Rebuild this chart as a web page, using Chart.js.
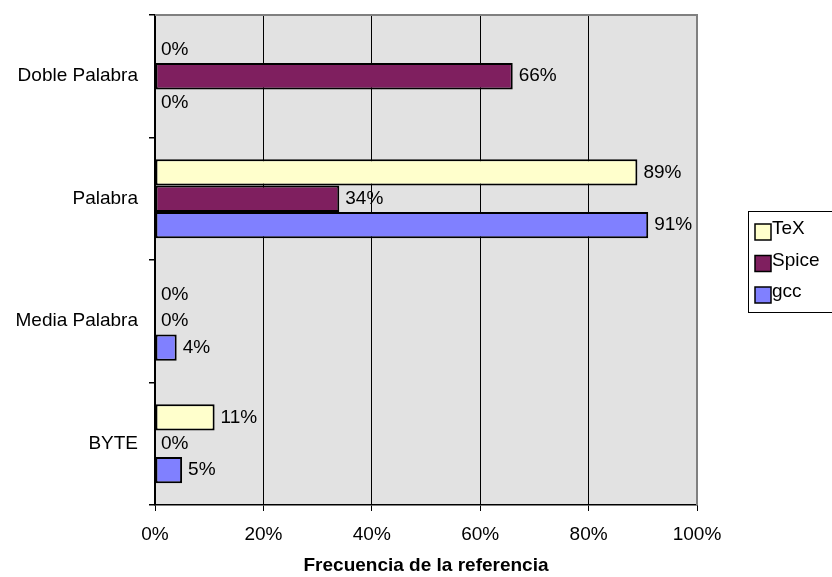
<!DOCTYPE html>
<html>
<head>
<meta charset="utf-8">
<title>Frecuencia de la referencia</title>
<script src="https://cdn.jsdelivr.net/npm/chart.js@4/dist/chart.umd.min.js"></script>
<style>
    html, body { margin: 0; padding: 0; background: #fff; }
    #chart { display: block; }
</style>
</head>
<body>
<canvas id="chart" width="832" height="577"></canvas>
<script>
// categories (top to bottom) and series values in percent
const categories = ['Doble Palabra', 'Palabra', 'Media Palabra', 'BYTE'];
const texValues = [0, 89, 0, 11];
const spiceValues = [66, 34, 0, 0];
const gccValues = [0, 91, 4, 5];
const seriesNames = ['TeX', 'Spice', 'gcc'];
const seriesColors = ['#FFFFCC', '#7F1F5F', '#8080FF'];
const xTicks = [0, 20, 40, 60, 80, 100];

const FONT = 'Arial, "Liberation Sans", sans-serif';

// grey plot background + top/right frame
const plotFrame = {
    id: 'plotFrame',
    beforeDraw(chart) {
        const a = chart.chartArea;
        const ctx = chart.ctx;
        ctx.save();
        ctx.fillStyle = '#E2E2E2';
        ctx.fillRect(a.left, a.top, a.right - a.left, a.bottom - a.top);
        ctx.restore();
    },
    afterDraw(chart) {
        const a = chart.chartArea;
        const ctx = chart.ctx;
        ctx.save();
        ctx.strokeStyle = '#808080';
        ctx.lineWidth = 2;
        ctx.beginPath();
        ctx.moveTo(a.left, a.top);
        ctx.lineTo(a.right, a.top);
        ctx.lineTo(a.right, a.bottom);
        ctx.stroke();
        ctx.restore();
    }
};

// value labels to the right of each bar
const valueLabels = {
    id: 'valueLabels',
    afterDatasetsDraw(chart) {
        const ctx = chart.ctx;
        ctx.save();
        ctx.font = '19px ' + FONT;
        ctx.fillStyle = '#000';
        ctx.textBaseline = 'middle';
        ctx.textAlign = 'left';
        chart.data.datasets.forEach(function (ds, i) {
            chart.getDatasetMeta(i).data.forEach(function (bar, j) {
                ctx.fillText(ds.data[j] + '%', bar.x + 6, bar.y);
            });
        });
        ctx.restore();
    }
};

// legend box on the right
const sideLegend = {
    id: 'sideLegend',
    afterDraw(chart) {
        const ctx = chart.ctx;
        const boxX = 748, boxY = 211, boxW = 90, boxH = 101;
        ctx.save();
        ctx.fillStyle = '#fff';
        ctx.fillRect(boxX, boxY, boxW, boxH);
        ctx.strokeStyle = '#000';
        ctx.lineWidth = 1;
        ctx.strokeRect(boxX + 0.5, boxY + 0.5, boxW, boxH);
        ctx.font = '19px ' + FONT;
        ctx.textBaseline = 'middle';
        ctx.textAlign = 'left';
        seriesNames.forEach(function (name, i) {
            const y = 224 + i * 31.5;
            ctx.fillStyle = seriesColors[i];
            ctx.fillRect(755, y, 16, 16);
            ctx.strokeStyle = '#000';
            ctx.lineWidth = 1.5;
            ctx.strokeRect(755, y, 16, 16);
            ctx.fillStyle = '#000';
            ctx.fillText(name, 772, y + 5);
        });
        ctx.restore();
    }
};

const datasets = [texValues, spiceValues, gccValues].map(function (values, i) {
    return {
        label: seriesNames[i],
        data: values,
        backgroundColor: seriesColors[i],
        borderColor: '#000',
        borderWidth: 2,
        borderSkipped: false,
        barPercentage: 1,
        categoryPercentage: 0.645
    };
});

new Chart(document.getElementById('chart'), {
    type: 'bar',
    data: {
        labels: categories,
        datasets: datasets
    },
    options: {
        indexAxis: 'y',
        responsive: false,
        animation: false,
        layout: {
            padding: { top: 15, right: 135, bottom: 0, left: 0 }
        },
        plugins: {
            legend: { display: false },
            tooltip: { enabled: false }
        },
        scales: {
            x: {
                min: 0,
                max: 100,
                afterBuildTicks: function (scale) {
                    scale.ticks = xTicks.map(v => ({ value: v }));
                },
                afterFit: function (scale) {
                    scale.height = 72;
                    scale.paddingLeft = 0;
                    scale.paddingRight = 0;
                },
                grid: {
                    color: '#000',
                    lineWidth: 1,
                    tickLength: 6,
                    tickColor: '#000'
                },
                border: { display: true, color: '#000', width: 1.5 },
                ticks: {
                    padding: 12,
                    color: '#000',
                    font: { family: FONT, size: 19 },
                    callback: function (value) {
                        return value + '%';
                    }
                },
                title: {
                    display: true,
                    text: 'Frecuencia de la referencia',
                    color: '#000',
                    padding: { top: 0, bottom: 0 },
                    font: { family: FONT, size: 19, weight: 'bold' }
                }
            },
            y: {
                afterFit: function (scale) {
                    scale.width = 155;
                    scale.paddingTop = 0;
                    scale.paddingBottom = 0;
                },
                grid: {
                    offset: true,
                    drawOnChartArea: false,
                    tickLength: 6,
                    tickColor: '#000',
                    lineWidth: 1.5
                },
                border: { display: true, color: '#000', width: 1.5 },
                ticks: {
                    padding: 11,
                    color: '#000',
                    font: { family: FONT, size: 19 }
                }
            }
        }
    },
    plugins: [plotFrame, valueLabels, sideLegend]
});
</script>
</body>
</html>
